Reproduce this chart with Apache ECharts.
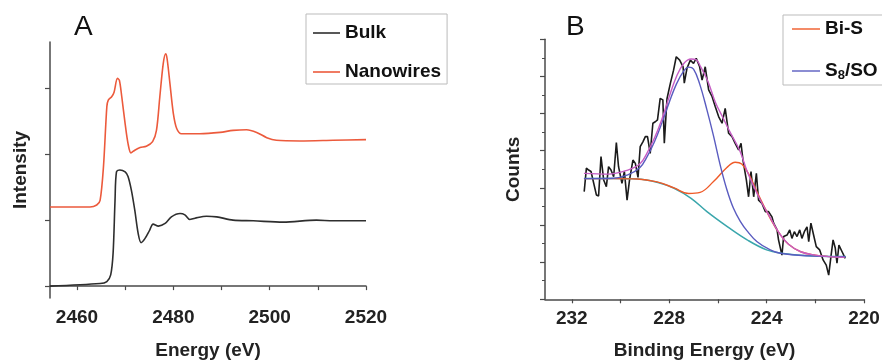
<!DOCTYPE html>
<html>
<head>
<meta charset="utf-8">
<script src="https://cdn.jsdelivr.net/npm/echarts@6.0.0/dist/echarts.min.js"></script>
<style>
  html, body { margin: 0; padding: 0; background: #fff; }
  #chart { width: 882px; height: 362px; }
</style>
</head>
<body>
<div id="chart"></div>
<script>
// panel A: XANES spectra (energy eV, intensity)
const bulk = [
  [2454.4, 0], [2464.8, 0.04], [2466.2, 0.07], [2467.0, 0.17], [2467.5, 0.5],
  [2467.9, 1.3], [2468.2, 1.73], [2468.9, 1.76], [2470.0, 1.73], [2470.6, 1.66],
  [2471.3, 1.45], [2472.0, 1.15], [2472.7, 0.8], [2473.3, 0.66], [2474.1, 0.72],
  [2475.1, 0.85], [2475.8, 0.94], [2476.9, 0.91], [2478.3, 0.95], [2479.6, 1.05],
  [2481.4, 1.1], [2482.4, 1.08], [2483.4, 1.01], [2484.5, 1.03], [2486.9, 1.06],
  [2489.0, 1.05], [2492.4, 1.0], [2496.6, 0.99], [2502.8, 0.97], [2509.7, 1.0],
  [2513.2, 0.99], [2520, 0.99]
];
const nanowires = [
  [2454.4, 1.2], [2462.7, 1.2], [2464.1, 1.23], [2464.8, 1.3], [2465.5, 1.81],
  [2466.2, 2.72], [2466.5, 2.82], [2467.2, 2.87], [2467.7, 2.94], [2468.4, 3.15],
  [2468.8, 3.12], [2469.3, 2.87], [2470.0, 2.46], [2470.6, 2.16], [2471.2, 2.02],
  [2472.0, 2.06], [2473.1, 2.1], [2474.4, 2.12], [2475.7, 2.19], [2476.5, 2.36],
  [2477.2, 2.87], [2477.9, 3.37], [2478.4, 3.52], [2478.7, 3.45], [2479.3, 3.07],
  [2480.0, 2.62], [2480.7, 2.39], [2481.7, 2.31], [2485.5, 2.31], [2489.7, 2.33],
  [2492.4, 2.36], [2495.2, 2.37], [2497.3, 2.33], [2499.4, 2.25], [2501.4, 2.21],
  [2506.3, 2.2], [2513.2, 2.21], [2520, 2.22]
];
const energyTicks = [2460, 2470, 2480, 2490, 2500, 2510, 2520];
const energyLabels = [2460, 2480, 2500, 2520];

// panel B: XPS S 2p (binding energy eV, counts)
const counts = [
  [231.49, 2.90], [231.40, 3.53], [231.31, 3.48], [231.21, 3.44], [231.13, 3.46],
  [230.99, 2.81], [230.90, 2.78], [230.80, 3.84], [230.69, 3.21], [230.58, 3.03],
  [230.49, 3.57], [230.39, 3.48], [230.28, 3.30], [230.17, 4.22], [230.08, 3.57],
  [229.94, 3.12], [229.84, 3.44], [229.73, 2.67], [229.63, 3.21], [229.49, 3.75],
  [229.39, 3.66], [229.28, 3.28], [229.19, 4.11], [229.08, 4.24], [228.98, 4.38],
  [228.89, 4.38], [228.78, 3.93], [228.67, 4.74], [228.57, 4.78], [228.48, 4.83],
  [228.37, 5.41], [228.26, 5.37], [228.20, 4.20], [228.09, 5.40], [227.95, 5.82],
  [227.82, 6.17], [227.71, 6.53], [227.57, 6.44], [227.43, 6.26], [227.38, 5.82],
  [227.27, 6.22], [227.13, 6.44], [227.00, 6.35], [226.89, 6.49], [226.75, 6.26],
  [226.65, 5.90], [226.52, 6.26], [226.38, 5.64], [226.24, 5.46], [226.11, 5.19],
  [225.97, 4.92], [225.83, 4.74], [225.70, 5.14], [225.56, 4.47], [225.42, 4.38],
  [225.29, 4.20], [225.15, 4.02], [225.05, 4.20], [224.97, 3.75], [224.83, 3.21],
  [224.74, 2.76], [224.64, 3.44], [224.53, 2.76], [224.42, 3.39], [224.33, 2.67],
  [224.19, 2.58], [224.05, 2.36], [223.92, 2.36], [223.78, 2.22], [223.71, 2.05],
  [223.57, 1.87], [223.51, 1.60], [223.37, 1.19], [223.30, 1.69], [223.16, 1.73],
  [223.05, 1.87], [222.96, 1.64], [222.86, 1.82], [222.75, 1.69], [222.64, 1.87],
  [222.55, 1.64], [222.45, 1.82], [222.34, 1.95], [222.27, 1.55], [222.18, 2.05],
  [222.07, 1.73], [221.96, 1.42], [221.82, 1.33], [221.68, 1.06], [221.55, 0.92],
  [221.45, 0.65], [221.35, 1.19], [221.27, 1.60], [221.18, 1.38], [221.11, 0.97],
  [221.03, 1.46], [220.90, 1.28], [220.77, 1.10]
];
const envelope = [
  [231.5, 3.39], [230.5, 3.37], [229.7, 3.48], [229.2, 3.65], [228.9, 3.95],
  [228.6, 4.35], [228.3, 4.85], [228.0, 5.45], [227.7, 6.0], [227.4, 6.35],
  [227.1, 6.47], [226.9, 6.45], [226.7, 6.25], [226.4, 5.85], [226.1, 5.3],
  [225.8, 4.9], [225.5, 4.5], [225.1, 4.0], [224.8, 3.45], [224.5, 3.0],
  [224.2, 2.6], [223.85, 2.2], [223.5, 1.8], [223.1, 1.48], [222.6, 1.28],
  [222.0, 1.19], [221.4, 1.15], [220.8, 1.13]
];
const biS = [
  [231.5, 3.25], [230.3, 3.25], [229.3, 3.24], [228.5, 3.16], [227.8, 3.0],
  [227.2, 2.85], [226.73, 2.88], [226.18, 3.17], [225.63, 3.55], [225.29, 3.69],
  [225.02, 3.64], [224.7, 3.33], [224.4, 2.9], [224.1, 2.5], [223.8, 2.12],
  [223.5, 1.8], [223.1, 1.48], [222.6, 1.28], [222.0, 1.19], [221.4, 1.15],
  [220.8, 1.13]
];
const s8 = [
  [231.5, 3.25], [230.3, 3.26], [229.7, 3.35], [229.2, 3.55], [228.9, 3.85],
  [228.6, 4.25], [228.3, 4.75], [228.0, 5.3], [227.7, 5.8], [227.4, 6.15],
  [227.2, 6.25], [227.0, 6.2], [226.75, 5.8], [226.45, 5.1], [226.18, 4.4],
  [225.9, 3.6], [225.63, 2.95], [225.36, 2.45], [225.08, 2.1], [224.81, 1.85],
  [224.39, 1.55], [223.85, 1.33], [223.44, 1.24], [222.3, 1.17], [221.0, 1.15],
  [220.75, 1.15]
];
const background = [
  [231.5, 3.25], [230.3, 3.25], [229.3, 3.24], [228.5, 3.15], [227.8, 2.99],
  [227.1, 2.72], [226.45, 2.36], [225.6, 1.95], [224.8, 1.6], [224.0, 1.33],
  [223.4, 1.24], [222.3, 1.17], [221.0, 1.15], [220.75, 1.15]
];
const bindingTicks = [220, 222, 224, 226, 228, 230, 232];
const bindingLabels = [220, 224, 228, 232];

const FONT = "'Liberation Sans', Arial, sans-serif";
const axisColor = "#4a4a4a";
const labelStyle = { color: "#222", fontSize: 19, fontWeight: "bold", fontFamily: FONT };
const plain = (v) => String(v);

let myChart = echarts.init(document.getElementById("chart"));

let options = {
  animation: false,
  textStyle: { fontFamily: FONT },
  title: [
    { text: "A", left: 69, top: 8, textStyle: { fontSize: 28, fontWeight: "normal", color: "#111", fontFamily: FONT } },
    { text: "B", left: 561, top: 8, textStyle: { fontSize: 28, fontWeight: "normal", color: "#111", fontFamily: FONT } }
  ],
  legend: [
    {
      data: ["Bulk", "Nanowires"],
      orient: "vertical",
      left: 306,
      top: 14,
      padding: [9, 6, 2, 7],
      icon: "rect",
      itemWidth: 27,
      itemHeight: 1.6,
      itemGap: 19,
      borderColor: "#bbb",
      borderWidth: 1,
      textStyle: { fontSize: 19, fontWeight: "bold", color: "#111", lineHeight: 20, fontFamily: FONT }
    },
    {
      data: ["Bi-S", "S8/SO"],
      orient: "vertical",
      left: 783,
      top: 15,
      padding: [4, 6, 3, 9],
      icon: "rect",
      itemWidth: 28,
      itemHeight: 1.4,
      itemGap: 22,
      borderColor: "#bbb",
      borderWidth: 1,
      formatter: function (name) {
        return name === "S8/SO" ? "{n|S}{s|8}{n|/SO}" : "{n|" + name + "}";
      },
      textStyle: {
        fontSize: 19, fontWeight: "bold", color: "#111", lineHeight: 20, fontFamily: FONT,
        rich: {
          n: { fontSize: 19, fontWeight: "bold", color: "#111", fontFamily: FONT },
          s: { fontSize: 13, fontWeight: "bold", color: "#111", fontFamily: FONT, padding: [9, 0, 0, 0] }
        }
      }
    }
  ],
  grid: [
    { left: 50, top: 42, width: 316, height: 256, outerBoundsMode: "none" },
    { left: 545, top: 39.3, width: 319, height: 260, outerBoundsMode: "none" }
  ],
  xAxis: [
    {
      type: "value",
      gridIndex: 0,
      min: 2454.4,
      max: 2520,
      name: "Energy (eV)",
      nameLocation: "middle",
      nameGap: 43,
      nameTextStyle: labelStyle,
      splitLine: { show: false },
      axisLine: { lineStyle: { color: axisColor, width: 1.5 } },
      axisTick: { customValues: energyTicks, length: 4, lineStyle: { color: axisColor, width: 1.2 } },
      axisLabel: { customValues: energyLabels, margin: 10, formatter: plain, ...labelStyle }
    },
    {
      type: "value",
      gridIndex: 1,
      min: 220,
      max: 233.1,
      inverse: true,
      name: "Binding Energy (eV)",
      nameLocation: "middle",
      nameGap: 42,
      nameTextStyle: labelStyle,
      splitLine: { show: false },
      axisLine: { lineStyle: { color: axisColor, width: 1.5 } },
      axisTick: { customValues: bindingTicks, length: 4, lineStyle: { color: axisColor, width: 1.2 } },
      axisLabel: { customValues: bindingLabels, margin: 10, formatter: plain, ...labelStyle }
    }
  ],
  yAxis: [
    {
      type: "value",
      gridIndex: 0,
      min: -0.18,
      max: 3.7,
      name: "Intensity",
      nameLocation: "middle",
      nameGap: 20,
      nameTextStyle: labelStyle,
      splitLine: { show: false },
      axisLine: { show: true, lineStyle: { color: axisColor, width: 1.5 } },
      axisTick: { show: true, customValues: [0, 1, 2, 3], length: 5, lineStyle: { color: axisColor, width: 1.2 } },
      axisLabel: { show: false }
    },
    {
      type: "value",
      gridIndex: 1,
      min: 0,
      max: 7,
      interval: 1,
      name: "Counts",
      nameLocation: "middle",
      nameGap: 22,
      nameTextStyle: labelStyle,
      splitLine: { show: false },
      axisLine: { show: true, lineStyle: { color: axisColor, width: 1.5 } },
      axisTick: { show: true, length: 5, lineStyle: { color: axisColor, width: 1.2 } },
      minorTick: { show: true, splitNumber: 2, length: 3, lineStyle: { color: axisColor, width: 1 } },
      axisLabel: { show: false }
    }
  ],
  series: [
    { name: "Bulk", type: "line", xAxisIndex: 0, yAxisIndex: 0, data: bulk, smooth: 0.3, showSymbol: false, symbol: "none", lineStyle: { color: "#2e2e2e", width: 1.6 }, itemStyle: { color: "#2e2e2e" } },
    { name: "Nanowires", type: "line", xAxisIndex: 0, yAxisIndex: 0, data: nanowires, smooth: 0.3, showSymbol: false, symbol: "none", lineStyle: { color: "#ec5a3c", width: 1.6 }, itemStyle: { color: "#ec5a3c" } },
    { name: "Data", type: "line", xAxisIndex: 1, yAxisIndex: 1, data: counts, showSymbol: false, symbol: "none", lineStyle: { color: "#1b1b1b", width: 1.6 }, itemStyle: { color: "#1b1b1b" } },
    { name: "Background", type: "line", xAxisIndex: 1, yAxisIndex: 1, data: background, smooth: 0.4, showSymbol: false, symbol: "none", lineStyle: { color: "#3aa6ac", width: 1.5 }, itemStyle: { color: "#3aa6ac" } },
    { name: "Bi-S", type: "line", xAxisIndex: 1, yAxisIndex: 1, data: biS, smooth: 0.4, showSymbol: false, symbol: "none", lineStyle: { color: "#ef5a28", width: 1.4 }, itemStyle: { color: "#ef5a28" } },
    { name: "S8/SO", type: "line", xAxisIndex: 1, yAxisIndex: 1, data: s8, smooth: 0.4, showSymbol: false, symbol: "none", lineStyle: { color: "#5a5cc0", width: 1.4 }, itemStyle: { color: "#5a5cc0" } },
    { name: "Envelope", type: "line", xAxisIndex: 1, yAxisIndex: 1, data: envelope, smooth: 0.4, showSymbol: false, symbol: "none", lineStyle: { color: "#c65ec4", width: 1.4 }, itemStyle: { color: "#c65ec4" } }
  ]
};

myChart.setOption(options);
</script>
</body>
</html>
